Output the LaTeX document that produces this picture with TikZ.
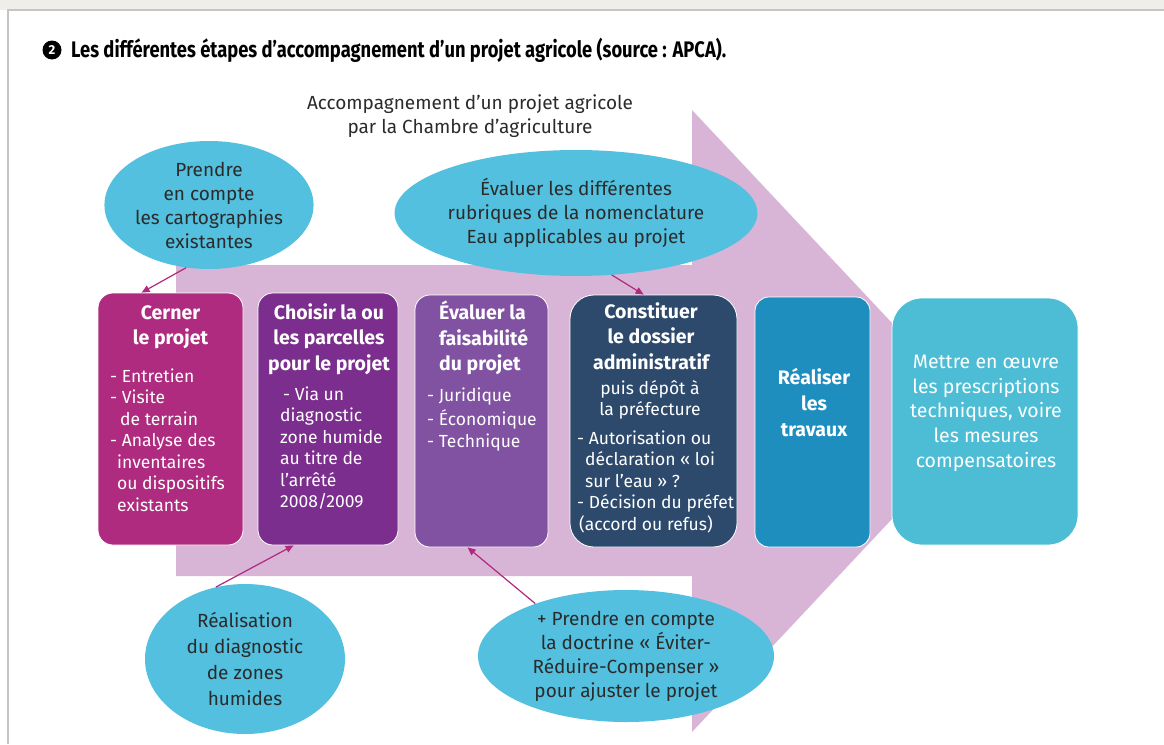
\documentclass[tikz,border=0pt]{standalone}
\usepackage{fontspec}
\setmainfont{Fira Sans}
\usepackage{graphicx}
\usetikzlibrary{shapes.geometric,arrows.meta}
\definecolor{arrowpink}{HTML}{D8B5D6}
\definecolor{cmag}{HTML}{AE2B7F}
\definecolor{cpurple}{HTML}{7B2E8D}
\definecolor{cviolet}{HTML}{8152A2}
\definecolor{cslate}{HTML}{2D4A6C}
\definecolor{cblue}{HTML}{1E8EBF}
\definecolor{ccyan}{HTML}{4CBDD5}
\definecolor{cell}{HTML}{52C0DE}
\definecolor{ctxt}{HTML}{2B2B2B}
\definecolor{cband}{HTML}{F0EEEB}
\definecolor{cframe}{HTML}{C9C4BF}
\definecolor{cconn}{HTML}{B1287F}
\begin{document}
\begin{tikzpicture}[x=1pt,y=-1pt,
  stage/.style={draw=white, line width=0.8pt, inner sep=0pt},
  bubble/.style={ellipse, fill=cell, inner sep=0pt, text=ctxt, align=center, font=\fontsize{19}{24}\selectfont},
  hd/.style={text=white, inner sep=0pt, anchor=north, align=center, font=\bfseries\fontsize{19.5}{25.5}\selectfont},
  bd/.style={text=white, inner sep=0pt, anchor=north west, align=left, font=\fontsize{17.5}{21.5}\selectfont},
  conn/.style={draw=cconn, line width=1.2pt, -{Triangle[length=8pt,width=7pt]}},
]
\useasboundingbox (0,0) rectangle (1164,744);
\fill[white] (0,0) rectangle (1164,744);
% frame
\fill[cband] (0,0) rectangle (1164,9.5);
\draw[cframe, line width=1.2pt] (8,744) -- (8,10) -- (1164,10);

% caption
\node[circle, fill=black, text=white, inner sep=0pt, minimum size=19pt, font=\bfseries\fontsize{13}{13}\selectfont] (num) at (52,50) {2};
\node[anchor=west, inner sep=0pt, text=black, font=\bfseries\fontsize{22.5}{26}\selectfont] (cap) at (71,50)
  {\resizebox{655pt}{\height}{Les différentes étapes d’accompagnement d’un projet agricole (source : APCA).}};

% big arrow
\fill[arrowpink] (176,265) -- (692,265) -- (692,110) -- (984,421) -- (692,732) -- (692,576) -- (176,576) -- cycle;

% heading
\node[text=ctxt, align=center, inner sep=0pt, font=\fontsize{19}{24}\selectfont] (head) at (470,116)
  {Accompagnement d’un projet agricole\\par la Chambre d’agriculture};

% bubbles
\node[bubble, minimum width=178pt, minimum height=128pt] (e1) at (209,205)
  {Prendre\\en compte\\les cartographies\\existantes};
\node[bubble, minimum width=316pt, minimum height=126pt] (e2) at (576,213)
  {Évaluer les différentes\\rubriques de la nomenclature\\Eau applicables au projet};
\node[bubble, minimum width=200pt, minimum height=150pt, font=\fontsize{19}{26}\selectfont] (e3) at (245,659)
  {Réalisation\\du diagnostic\\de zones\\humides};
\node[bubble, minimum width=296pt, minimum height=132pt] (e4) at (626,656)
  {+ Prendre en compte\\la doctrine « Éviter-\\Réduire-Compenser »\\pour ajuster le projet};

% stage boxes
\node[stage, fill=cmag, rounded corners=15pt, minimum width=145pt, minimum height=252pt] (b1) at (170.5,419) {};
\node[stage, fill=cpurple, rounded corners=15pt, minimum width=140pt, minimum height=252pt] (b2) at (328,419) {};
\node[stage, fill=cviolet, rounded corners=15pt, minimum width=133pt, minimum height=252pt] (b3) at (481.5,421) {};
\node[stage, fill=cslate, rounded corners=24pt, minimum width=167pt, minimum height=252pt] (b4) at (653.5,421) {};
\node[stage, fill=cblue, rounded corners=14pt, minimum width=115pt, minimum height=250pt] (b5) at (812.5,422) {};
\node[stage, fill=ccyan, rounded corners=30pt, minimum width=186pt, minimum height=247pt] (b6) at (985,421.5) {};

% box 1
\node[hd] (t1) at (170.5,301) {\strut Cerner\\le projet};
\node[bd] (d1) at (110,367) {\strut- Entretien\\- Visite\\\hspace*{10pt}de terrain\\- Analyse des\\\hspace*{7pt}inventaires\\\hspace*{7pt}ou dispositifs\\\hspace*{7pt}existants};
% box 2
\node[hd] (t2) at (329,301) {\strut Choisir la ou\\les parcelles\\pour le projet};
\node[bd] (d2) at (280,385) {\strut\hspace*{3pt}- Via un\\diagnostic\\zone humide\\au titre de\\l’arrêté\\2008/2009};
% box 3
\node[hd, anchor=north west, align=left] (t3) at (439,301) {\strut Évaluer la\\faisabilité\\du projet};
\node[bd, font=\fontsize{17.5}{22}\selectfont] (d3) at (427,386) {\strut- Juridique\\- Économique\\- Technique};
% box 4
\node[hd, font=\bfseries\fontsize{19.5}{25.5}\selectfont] (t4) at (651,300) {\strut Constituer\\le dossier\\administratif};
\node[text=white, inner sep=0pt, anchor=north, align=center, font=\fontsize{17.5}{20.5}\selectfont] (s4) at (650,380) {\strut puis dépôt à\\la préfecture};
\node[bd] (d4) at (577,429) {\strut- Autorisation ou\\\hspace*{8pt}déclaration « loi\\\hspace*{8pt}sur l’eau » ?\\- Décision du préfet\\\hspace*{2pt}(accord ou refus)};
% box 5
\node[hd, font=\bfseries\fontsize{19.5}{26}\selectfont] (t5) at (814,366) {\strut Réaliser\\les\\travaux};
% box 6
\node[text=white, inner sep=0pt, anchor=north, align=center, font=\fontsize{19.5}{24.7}\selectfont] (t6) at (986,351) {\strut Mettre en œuvre\\les prescriptions\\techniques, voire\\les mesures\\compensatoires};

% connectors
\draw[conn] (e1.250) -- ([xshift=44pt]b1.north west);
\draw[conn] (e3.112) -- ([xshift=36pt]b2.south west);
\draw[conn] (e4.150) -- ([xshift=53pt]b3.south west);
\draw[conn] (e2.300) -- ([xshift=74pt]b4.north west);
\end{tikzpicture}
\end{document}
